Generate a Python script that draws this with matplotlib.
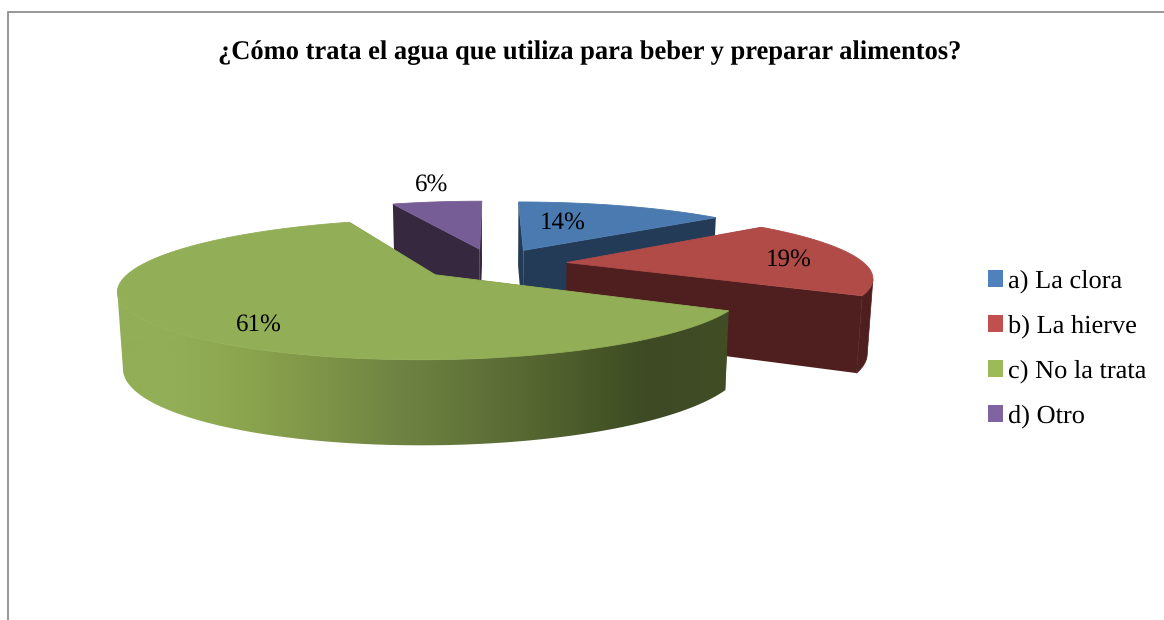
import numpy as np
import matplotlib
import matplotlib.pyplot as plt
import matplotlib.colors as mcolors
from matplotlib.patches import Polygon, Patch

matplotlib.use("Agg")
plt.rcParams["text.hinting"] = "none"

title = "¿Cómo trata el agua que utiliza para beber y preparar alimentos?"
categories = ["a) La clora", "b) La hierve", "c) No la trata", "d) Otro"]
values = [14, 19, 61, 6]

top_colors = ["#4a7aaf", "#b04b48", "#92ae56", "#775d95"]
legend_colors = ["#4f81bd", "#c0504d", "#9bbb59", "#8064a2"]
side_colors = ["#243b58", "#4e1f1e", None, "#35283f"]
label_pos = [(563, 223), (789, 260), (259, 324.5), (432, 185)]

# the wall of the big slice goes from light to dark from left to right
green_wall = mcolors.LinearSegmentedColormap.from_list(
    "wall", [(0.0, "#92ae56"), (0.1, "#92ae56"), (0.22, "#8aa44e"), (0.3, "#82994a"),
             (0.46, "#6f8443"), (0.63, "#5c6e36"), (0.79, "#475627"), (0.87, "#3d4a24"),
             (1.0, "#404d25")])

# projection of the tilted pie, in pixels
cx, cy = 493, 264
rx, ry = 298, 63
persp = 0.2
depth = 73
explode = 0.25
bottom_shrink = 0.985


def project(x, y, low=False):
    s = 1 / (1 + persp * y)
    if low:
        return cx + rx * x * s * bottom_shrink, cy - ry * y * s + depth * s ** 0.6
    return cx + rx * x * s, cy - ry * y * s


fig = plt.figure(figsize=(11.64, 6.2), dpi=100)
ax = fig.add_axes([0, 0, 1, 1])
ax.set_xlim(0, 1164)
ax.set_ylim(620, 0)
ax.axis("off")

ax.plot([8, 8, 1164], [620, 12, 12], color="#868686", lw=1.2, solid_joinstyle="miter")

edges = np.radians(np.concatenate([[0], np.cumsum(values)]) * 3.6)
z = 1

# back to front
for i in [3, 0, 1, 2]:
    a0, a1 = edges[i], edges[i + 1]
    mid = (a0 + a1) / 2
    ox, oy = explode * np.sin(mid), explode * np.cos(mid)
    ang = np.linspace(a0, a1, max(values[i] * 6, 40))
    xs, ys = ox + np.sin(ang), oy + np.cos(ang)
    side = side_colors[i] or "#3f4b22"

    # straight cut faces, farther one first
    for k in sorted([0, -1], key=lambda k: -ys[k]):
        pts = [project(ox, oy), project(xs[k], ys[k]),
               project(xs[k], ys[k], True), project(ox, oy, True)]
        ax.add_patch(Polygon(pts, closed=True, fc=side, ec="none", zorder=z))
        z += 1

    # outer wall, only the part that faces the viewer (x runs leftwards along the front)
    px = np.array([project(a, b)[0] for a, b in zip(xs, ys)])
    front = (np.cos(ang) < 0.4) & (np.gradient(px) < 0)
    if front.any():
        wall = [project(a, b) for a, b in zip(xs[front], ys[front])]
        wall += [project(a, b, True) for a, b in zip(xs[front][::-1], ys[front][::-1])]
        if side_colors[i] is None:
            patch = Polygon(wall, closed=True, fc="none", ec="none", zorder=z)
            ax.add_patch(patch)
            ramp = np.linspace(0, 1, 512)[np.newaxis, :]
            im = ax.imshow(ramp, cmap=green_wall, aspect="auto", extent=(117, 727, 620, 0),
                           zorder=z, interpolation="bilinear")
            im.set_clip_path(patch)
            ax.set_xlim(0, 1164)
            ax.set_ylim(620, 0)
        else:
            ax.add_patch(Polygon(wall, closed=True, fc=side, ec=side, lw=0.5, zorder=z))
        z += 1

    # top
    top = [project(ox, oy)] + [project(a, b) for a, b in zip(xs, ys)]
    ax.add_patch(Polygon(top, closed=True, fc=top_colors[i], ec=top_colors[i], lw=0.6, zorder=z))
    z += 1

for v, (lx, ly) in zip(values, label_pos):
    ax.text(lx, ly, f"{v}%", ha="center", va="center", fontsize=18,
            family="Liberation Serif", color="black", zorder=z)

ax.text(590, 53, title, ha="center", va="center", fontsize=19.1, fontweight="bold",
        family="Liberation Serif", color="black")

handles = [Patch(fc=c, ec="none") for c in legend_colors]
ax.legend(handles, categories, loc="center left", bbox_to_anchor=(988 / 1164, 1 - 349 / 620),
          frameon=False, ncol=1, prop={"family": "Liberation Serif", "size": 19},
          handlelength=0.58, handleheight=0.58, handletextpad=0.16,
          labelspacing=0.815, borderpad=0, borderaxespad=0)

fig.savefig("out.png", dpi=100)
